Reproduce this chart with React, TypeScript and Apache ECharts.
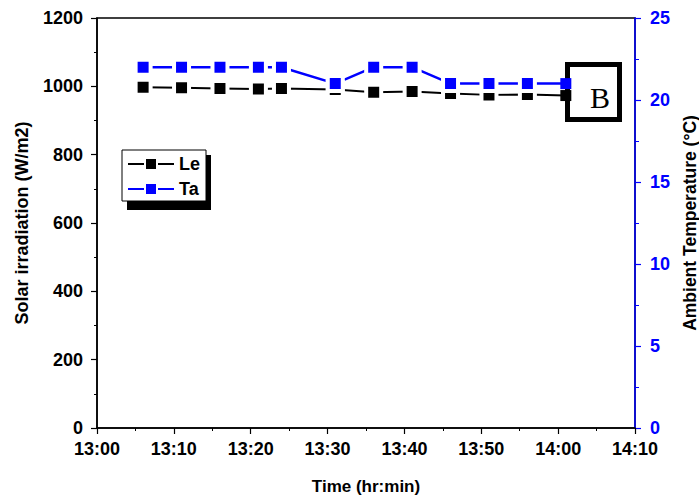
import React, { useEffect, useRef } from "react";
import * as echarts from "echarts";

const times = ["13:06", "13:11", "13:16", "13:21", "13:24", "13:31", "13:36", "13:41", "13:46", "13:51", "13:56", "14:01"];
const leValues = [997, 996, 994, 992, 994, 991, 983, 985, 979, 975, 976, 973];
const taValues = [22, 22, 22, 22, 22, 21, 22, 22, 21, 21, 21, 21];
const seriesNames = ["Le", "Ta"];
const xStart = "13:00";
const xEnd = "14:10";

const toMin = (t: string) => {
  const [h, m] = t.split(":").map(Number);
  return h * 60 + m;
};
const fmt = (v: number) => {
  const h = Math.floor(v / 60);
  const m = Math.round(v - h * 60);
  return `${h}:${m < 10 ? "0" + m : m}`;
};

const FONT = "Arial, 'Liberation Sans', sans-serif";

export default function App() {
  const ref = useRef<HTMLDivElement>(null);
  useEffect(() => {
    if (!ref.current) return;
    const chart = echarts.init(ref.current, undefined, { renderer: "svg" });
    const base = toMin(xStart);
    const lblStyle = { fontFamily: FONT, fontWeight: "bold" as const, fontSize: 18, color: "#000" };
    const build = (vals: number[]) =>
      times.map((t, i) => {
        const value = [toMin(t) - base, vals[i]];
        // last marker sits on the "B" box border: draw without white halo
        return i === times.length - 1
          ? { value, symbolSize: 11, itemStyle: { borderWidth: 0 } }
          : value;
      });
    chart.setOption({
      animation: false,
      backgroundColor: "#fff",
      grid: {
        left: 97,
        right: 64,
        top: 18,
        bottom: 72,
        containLabel: false,
        outerBoundsMode: "none",
        show: true,
        borderColor: "#000",
        borderWidth: 1.5,
        backgroundColor: "transparent",
      },
      xAxis: {
        type: "value",
        min: 0,
        max: toMin(xEnd) - base,
        interval: 10,
        name: "Time (hr:min)",
        nameLocation: "middle",
        nameGap: 50,
        nameTextStyle: { ...lblStyle, fontSize: 17 },
        axisLine: { show: true, lineStyle: { color: "#000", width: 1.5 } },
        axisTick: { show: true, length: 6, lineStyle: { color: "#000", width: 1.2 } },
        minorTick: { show: true, splitNumber: 2, length: 3, lineStyle: { color: "#000", width: 1 } },
        splitLine: { show: false },
        axisLabel: { ...lblStyle, margin: 12, formatter: (v: number) => fmt(base + v) },
      },
      yAxis: [
        {
          type: "value",
          min: 0,
          max: 1200,
          interval: 200,
          name: "Solar irradiation (W/m2)",
          nameLocation: "middle",
          nameGap: 66,
          nameTextStyle: { ...lblStyle, fontSize: 18 },
          axisLine: { show: true, lineStyle: { color: "#000", width: 1.5 } },
          axisTick: { show: true, length: 6, lineStyle: { color: "#000", width: 1.2 } },
          minorTick: { show: true, splitNumber: 2, length: 3, lineStyle: { color: "#000", width: 1 } },
          splitLine: { show: false },
          axisLabel: { ...lblStyle, margin: 14, formatter: (v: number) => String(v) },
        },
        {
          type: "value",
          min: 0,
          max: 25,
          interval: 5,
          position: "right",
          name: "Ambient Temperature (°C)",
          nameLocation: "middle",
          nameGap: 46,
          nameTextStyle: { ...lblStyle, fontSize: 17.5, color: "#000" },
          axisLine: { show: true, lineStyle: { color: "#0000ff", width: 1.5 } },
          axisTick: { show: true, length: 6, lineStyle: { color: "#0000ff", width: 1.2 } },
          minorTick: { show: true, splitNumber: 2, length: 4, lineStyle: { color: "#0000ff", width: 1 } },
          splitLine: { show: false },
          axisLabel: { ...lblStyle, color: "#0000ff", margin: 15, formatter: (v: number) => String(v) },
        },
      ],
      legend: {
        data: seriesNames,
        orient: "vertical",
        left: 122,
        top: 150,
        padding: [5, 6, 3, 5],
        itemWidth: 46,
        itemHeight: 15,
        itemGap: 7,
        backgroundColor: "#fff",
        borderColor: "#000",
        borderWidth: 1,
        z: 5,
        textStyle: { ...lblStyle, fontSize: 18, color: "#000" },
      },
      graphic: [
        { type: "rect", z: 4, shape: { x: 127, y: 155, width: 84, height: 55 }, style: { fill: "#000" } },
        {
          type: "rect",
          z: 1,
          shape: { x: 567.5, y: 64.5, width: 52, height: 55 },
          style: { fill: "#fff", stroke: "#000", lineWidth: 5 },
        },
        {
          type: "text",
          z: 1,
          x: 600,
          y: 97,
          style: {
            text: "B",
            fontFamily: "'Times New Roman', 'Liberation Serif', serif",
            fontSize: 30,
            fill: "#000",
            align: "center",
            verticalAlign: "middle",
          },
        },
      ],
      series: [
        {
          name: seriesNames[0],
          type: "line",
          yAxisIndex: 0,
          data: build(leValues),
          symbol: "rect",
          symbolSize: 15,
          itemStyle: { color: "#000", borderColor: "#fff", borderWidth: 4 },
          lineStyle: { color: "#000", width: 2 },
        },
        {
          name: seriesNames[1],
          type: "line",
          yAxisIndex: 1,
          data: build(taValues),
          symbol: "rect",
          symbolSize: 15,
          itemStyle: { color: "#0000ff", borderColor: "#fff", borderWidth: 4 },
          lineStyle: { color: "#0000ff", width: 2.5 },
        },
      ],
    });
    return () => chart.dispose();
  }, []);
  return (
    <div
      ref={ref}
      style={{ position: "absolute", left: 0, top: 0, width: 699, height: 500 }}
    />
  );
}
